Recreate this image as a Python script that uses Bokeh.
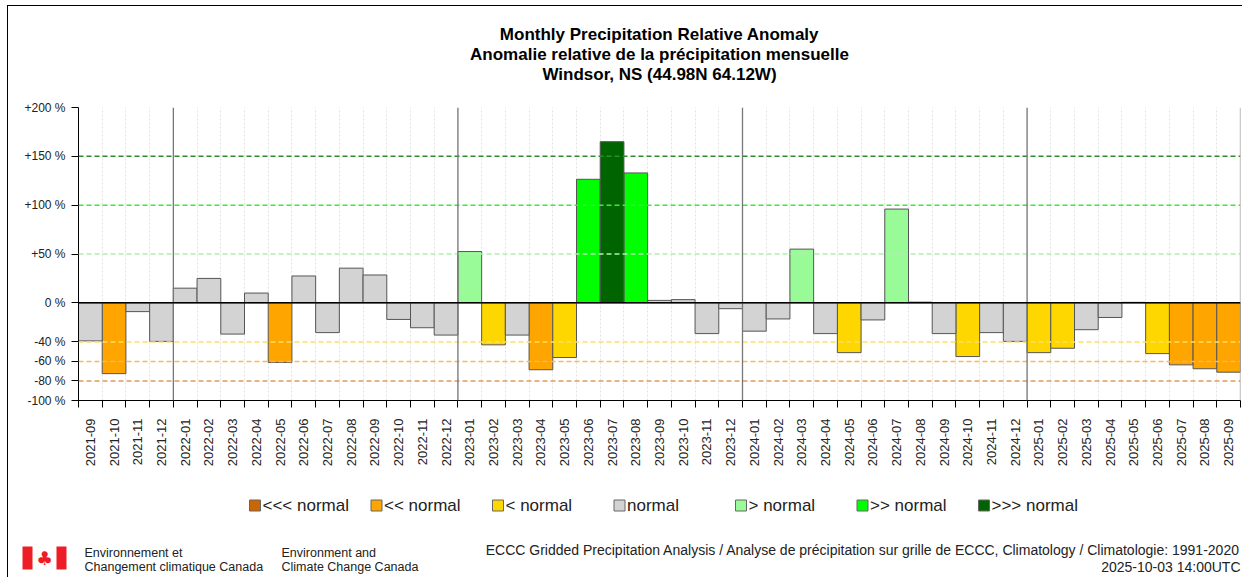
import math
from bokeh.plotting import figure
from bokeh.layouts import column
from bokeh.models import Range1d, FixedTicker, Span, ColumnDataSource
from bokeh.core.properties import value
from bokeh.embed import file_html
from bokeh.resources import INLINE

# ---------------- data ----------------
months = [
    "2021-09", "2021-10", "2021-11", "2021-12",
    "2022-01", "2022-02", "2022-03", "2022-04", "2022-05", "2022-06",
    "2022-07", "2022-08", "2022-09", "2022-10", "2022-11", "2022-12",
    "2023-01", "2023-02", "2023-03", "2023-04", "2023-05", "2023-06",
    "2023-07", "2023-08", "2023-09", "2023-10", "2023-11", "2023-12",
    "2024-01", "2024-02", "2024-03", "2024-04", "2024-05", "2024-06",
    "2024-07", "2024-08", "2024-09", "2024-10", "2024-11", "2024-12",
    "2025-01", "2025-02", "2025-03", "2025-04", "2025-05", "2025-06",
    "2025-07", "2025-08", "2025-09",
]
anomaly = [
    -39, -72.5, -9, -39.5,
    15, 25, -32, 10, -61, 27.5, -30.5, 35.5, 28.5, -17, -25.5, -33,
    52.5, -43, -33, -68.5, -56, 126.5, 165, 133, 2.5, 3.3, -31.5, -6,
    -29, -16.5, 55, -31.5, -51, -17.5, 96, 0.7, -31.5, -55, -30.5, -39.5,
    -51, -46.5, -27.5, -15, 0.5, -52, -63.5, -67.5, -71,
]
category = [
    "normal", "<< normal", "normal", "normal",
    "normal", "normal", "normal", "normal", "<< normal", "normal",
    "normal", "normal", "normal", "normal", "normal", "normal",
    "> normal", "< normal", "normal", "<< normal", "< normal", ">> normal",
    ">>> normal", ">> normal", "normal", "normal", "normal", "normal",
    "normal", "normal", "> normal", "normal", "< normal", "normal",
    "> normal", "normal", "normal", "< normal", "normal", "normal",
    "< normal", "< normal", "normal", "normal", "normal", "< normal",
    "<< normal", "<< normal", "<< normal",
]
legend_labels = ["<<< normal", "<< normal", "< normal", "normal",
                 "> normal", ">> normal", ">>> normal"]
legend_colors = ["#CC6600", "#FFA500", "#FFD700", "#D3D3D3",
                 "#98FB98", "#00FF00", "#006400"]
y_ticks = [-100, -80, -60, -40, 0, 50, 100, 150, 200]
y_tick_labels = ["-100 %", "-80 %", "-60 %", "-40 %", "0 %",
                 "+50 %", "+100 %", "+150 %", "+200 %"]
threshold_levels = [150, 100, 50, -40, -60, -80]
threshold_colors = ["#2E8B2E", "#33EE33", "#B0F0B0", "#FFE060", "#FFB850", "#E09A5A"]

title_lines = ["Monthly Precipitation Relative Anomaly",
               "Anomalie relative de la précipitation mensuelle",
               "Windsor, NS (44.98N 64.12W)"]
agency_fr = ["Environnement et", "Changement climatique Canada"]
agency_en = ["Environment and", "Climate Change Canada"]
source_lines = ["ECCC Gridded Precipitation Analysis / Analyse de précipitation sur grille de ECCC, "
                "Climatology / Climatologie: 1991-2020",
                "2025-10-03 14:00UTC"]

n = len(months)
FONT = "Liberation Sans"
OX, OY = 8, 6          # page offset of the content box (inside its border)
W = 1234               # content width -> right edge at page 1242


def blank(y0, y1):
    f = figure(width=W, height=y1 - y0, output_backend="svg", toolbar_location=None,
               x_range=Range1d(OX, OX + W), y_range=Range1d(y1, y0),
               x_axis_location=None, y_axis_location=None,
               min_border=0)
    f.frame_align = False
    f.outline_line_color = None
    f.xgrid.visible = False
    f.ygrid.visible = False
    return f


# ---------------- header (page y 6..98) ----------------
head = blank(OY, 98)
head.text(x=[659] * 3, y=[34, 54, 74], text=title_lines,
          text_align="center", text_baseline="middle",
          text_font=value(FONT), text_font_style="bold",
          text_font_size="17px", text_color="black")

# ---------------- main chart (page y 98..490, frame 107..400, x 78..1240) ----------------
p = figure(width=W, height=392, output_backend="svg", toolbar_location=None,
           x_range=Range1d(0, n), y_range=Range1d(-100, 200),
           min_border_left=78 - OX, min_border_right=OX + W - 1240,
           min_border_top=9, min_border_bottom=90)
p.frame_align = False
p.outline_line_color = None

boundaries = list(range(n + 1))
p.xgrid.ticker = FixedTicker(ticks=boundaries)
p.xgrid.grid_line_color = "#E2E2E2"
p.xgrid.grid_line_dash = "2 2"
p.ygrid.grid_line_color = None

for lev, col in zip(threshold_levels, threshold_colors):
    p.add_layout(Span(location=lev, dimension="width", line_color=col,
                      line_dash="5 3", line_width=1.5))

for i, m in enumerate(months):
    if m.endswith("-01"):
        p.add_layout(Span(location=i, dimension="height", line_color="#777777",
                          line_width=1.3))
p.add_layout(Span(location=n, dimension="height", line_color="#999999", line_width=1.3))

for lab, col in zip(legend_labels, legend_colors):
    xs = [i + 0.5 for i in range(n) if category[i] == lab]
    tops = [anomaly[i] for i in range(n) if category[i] == lab]
    src = ColumnDataSource(dict(x=xs, top=tops))
    p.vbar(x="x", top="top", bottom=0, width=1, source=src,
           fill_color=col, line_color="#555555", line_width=1)

p.add_layout(Span(location=0, dimension="width", line_color="black", line_width=1.5))

p.yaxis.ticker = FixedTicker(ticks=y_ticks)
p.yaxis.major_label_overrides = {t: l for t, l in zip(y_ticks, y_tick_labels)}
p.yaxis.major_label_text_font = FONT
p.yaxis.major_label_text_font_size = "12px"
p.yaxis.major_label_text_color = "#222222"
p.yaxis.major_tick_out = 7
p.yaxis.major_tick_in = 0
p.yaxis.minor_tick_out = 0
p.yaxis.minor_tick_in = 0
p.yaxis.axis_line_color = "black"
p.yaxis.major_label_standoff = 6

centers = [i + 0.5 for i in range(n)]
p.xaxis.ticker = FixedTicker(ticks=centers, minor_ticks=boundaries)
p.xaxis.major_label_overrides = {c: m for c, m in zip(centers, months)}
p.xaxis.major_label_orientation = math.pi / 2
p.xaxis.major_label_text_font = FONT
p.xaxis.major_label_text_font_size = "13px"
p.xaxis.major_label_text_color = "#222222"
p.xaxis.major_tick_out = 0
p.xaxis.major_tick_in = 0
p.xaxis.minor_tick_out = 7
p.xaxis.minor_tick_in = 0
p.xaxis.minor_tick_line_color = "black"
p.xaxis.axis_line_color = "black"
p.xaxis.major_label_standoff = 11

# ---------------- footer (page y 490..577): legend + credits ----------------
foot = blank(490, 577)
k = list(range(len(legend_labels)))
sq_left = [249 + 121.5 * j for j in k]
foot.rect(x=[s + 5.5 for s in sq_left], y=[505] * len(k), width=11, height=11,
          fill_color=legend_colors, line_color="#666666", line_width=1)
foot.text(x=[s + 13 for s in sq_left], y=[505] * len(k), text=legend_labels,
          text_align="left", text_baseline="middle", text_font=value(FONT),
          text_font_size="17px", text_color="#222222")

# Canada flag (logo)
foot.quad(left=[22, 56], right=[32, 66], top=[546, 546], bottom=[569, 569],
          fill_color="#EE1C25", line_alpha=0)
foot.text(x=[44], y=[557], text=["♣"], text_align="center", text_baseline="middle",
          text_font=value("DejaVu Sans"), text_font_size="19px", text_color="#EE1C25")

foot.text(x=[84, 84], y=[552, 566], text=agency_fr, text_align="left",
          text_baseline="middle", text_font=value(FONT), text_font_size="12.5px",
          text_color="#222222")
foot.text(x=[281, 281], y=[552, 566], text=agency_en, text_align="left",
          text_baseline="middle", text_font=value(FONT), text_font_size="12.5px",
          text_color="#222222")
foot.text(x=[1240, 1240], y=[549, 566], text=source_lines, text_align="right",
          text_baseline="middle", text_font=value(FONT), text_font_size="14px",
          text_color="#222222")

layout = column(head, p, foot, spacing=0,
                styles={"margin-left": "7px", "margin-top": "5px",
                        "border-left": "1px solid black",
                        "border-top": "1px solid black"})
open("out.html", "w").write(file_html(layout, INLINE))
